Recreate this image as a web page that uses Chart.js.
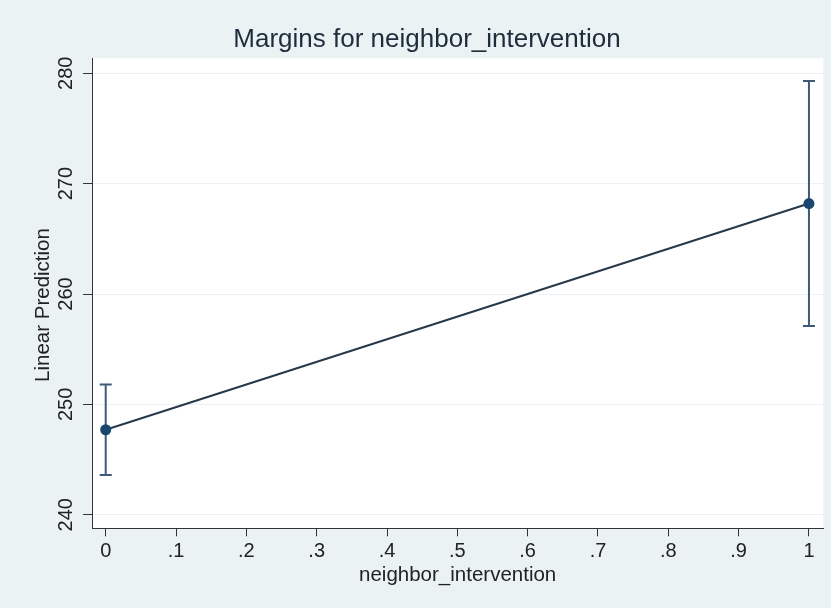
<!DOCTYPE html>
<html>
<head>
<meta charset="utf-8">
<style>
  html, body { margin: 0; padding: 0; background: #EAF2F3; }
  canvas { display: block; }
</style>
<script src="https://cdn.jsdelivr.net/npm/chart.js@4.4.1/dist/chart.umd.min.js"></script>
</head>
<body>
<canvas id="c" width="831" height="608"></canvas>
<script>
// ---- data ----
const xValues = [0, 1];
const margins = [247.7, 268.2];
const ciLower = [243.6, 257.1];
const ciUpper = [251.8, 279.3];
const xTickValues = [0, 0.1, 0.2, 0.3, 0.4, 0.5, 0.6, 0.7, 0.8, 0.9, 1];
const xTickLabels = ['0', '.1', '.2', '.3', '.4', '.5', '.6', '.7', '.8', '.9', '1'];
const yTickValues = [240, 250, 260, 270, 280];
const yTickLabels = ['240', '250', '260', '270', '280'];
const titleText = 'Margins for neighbor_intervention';
const xTitleText = 'neighbor_intervention';
const yTitleText = 'Linear Prediction';

const FONT = "'Liberation Sans', Arial, Helvetica, sans-serif";
Chart.defaults.font.family = FONT;

const stataPlugin = {
  id: 'stata',
  beforeDraw(chart) {
    const { ctx, chartArea: a } = chart;
    ctx.save();
    ctx.fillStyle = '#EAF2F3';
    ctx.fillRect(0, 0, chart.width, chart.height);
    ctx.fillStyle = '#FFFFFF';
    ctx.fillRect(a.left, a.top, a.right - a.left, a.bottom - a.top);
    ctx.restore();
  },
  beforeDatasetsDraw(chart) {
    const { ctx } = chart;
    const xs = chart.scales.x, ys = chart.scales.y;
    ctx.save();
    ctx.strokeStyle = '#3E5A77';
    ctx.lineWidth = 2;
    xValues.forEach((xv, i) => {
      const px = xs.getPixelForValue(xv);
      const pl = ys.getPixelForValue(ciLower[i]);
      const pu = ys.getPixelForValue(ciUpper[i]);
      ctx.beginPath();
      ctx.moveTo(px, pl); ctx.lineTo(px, pu);
      ctx.moveTo(px - 6, pu); ctx.lineTo(px + 6, pu);
      ctx.moveTo(px - 6, pl); ctx.lineTo(px + 6, pl);
      ctx.stroke();
    });
    ctx.restore();
  },
  afterDraw(chart) {
    const { ctx } = chart;
    const ys = chart.scales.y;
    ctx.save();
    ctx.fillStyle = '#222222';
    ctx.font = '20px ' + FONT;
    ctx.textAlign = 'center';
    ctx.textBaseline = 'alphabetic';
    yTickValues.forEach((v, i) => {
      const py = ys.getPixelForValue(v);
      ctx.save();
      ctx.translate(72.3, py);
      ctx.rotate(-Math.PI / 2);
      ctx.fillText(yTickLabels[i], 0, 0);
      ctx.restore();
    });
    ctx.font = '20.5px ' + FONT;
    ctx.textBaseline = 'middle';
    ctx.translate(43, 305);
    ctx.rotate(-Math.PI / 2);
    ctx.fillText(yTitleText, 0, 0);
    ctx.restore();
  }
};

new Chart(document.getElementById('c'), {
  type: 'line',
  data: {
    datasets: [{
      data: xValues.map((x, i) => ({ x: x, y: margins[i] })),
      borderColor: '#27384A',
      borderWidth: 2,
      pointRadius: 5.5,
      pointBackgroundColor: '#1A476F',
      pointBorderColor: '#1A476F',
      pointBorderWidth: 0,
      tension: 0,
      fill: false
    }]
  },
  options: {
    responsive: false,
    animation: false,
    devicePixelRatio: 1,
    layout: { padding: { left: 30.7, right: 7.7, top: 0, bottom: 0 } },
    plugins: {
      legend: { display: false },
      tooltip: { enabled: false },
      title: {
        display: true,
        text: titleText,
        color: '#1E2C3C',
        font: { size: 26, weight: 'normal' },
        padding: { top: 24.1, bottom: 3 }
      }
    },
    scales: {
      x: {
        type: 'linear',
        position: 'bottom',
        min: -0.0195,
        max: 1.0204,
        afterBuildTicks: s => { s.ticks = xTickValues.map(v => ({ value: v })); },
        afterFit: s => { s.height = 79.7; },
        ticks: {
          callback: (v, i) => xTickLabels[i],
          color: '#222222',
          font: { size: 20 },
          padding: 3,
          autoSkip: false,
          maxRotation: 0,
          minRotation: 0
        },
        grid: { drawOnChartArea: false, drawTicks: true, tickLength: 8, tickColor: '#333333', tickWidth: 1 },
        border: { display: true, color: '#333333', width: 1 },
        title: {
          display: true,
          text: xTitleText,
          color: '#222222',
          font: { size: 20.5 },
          padding: { top: 0, bottom: 20 }
        }
      },
      y: {
        type: 'linear',
        min: 238.77,
        max: 281.36,
        afterBuildTicks: s => { s.ticks = yTickValues.map(v => ({ value: v })); },
        afterFit: s => { s.width = 61.3; },
        ticks: { display: false },
        grid: { color: '#EAF2F3', lineWidth: 1, drawTicks: true, tickLength: 9, tickColor: '#333333' },
        border: { display: true, color: '#333333', width: 1 }
      }
    }
  },
  plugins: [stataPlugin]
});
</script>
</body>
</html>
